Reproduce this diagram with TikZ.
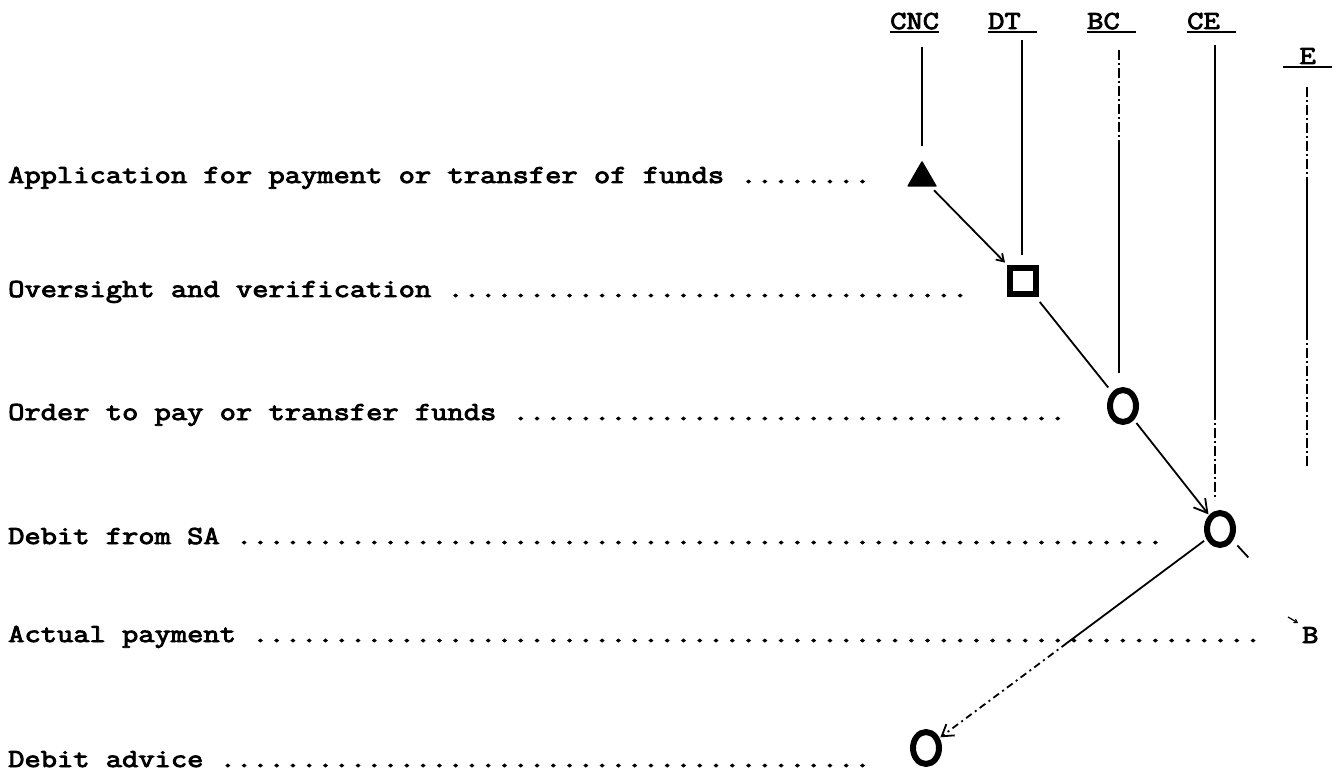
\documentclass[tikz,border=0pt]{standalone}
\usepackage{fontspec}
\newfontfamily\tw{Latin Modern Mono}[FakeStretch=1.22, FakeBold=3.5]
\usetikzlibrary{shapes.geometric,arrows.meta,calc}
\newcount\mydotcnt
\newcommand\mydots[1]{\mydotcnt=0 \loop\ifnum\mydotcnt<#1 .\advance\mydotcnt by 1 \repeat}
\tikzset{
  lbl/.style={anchor=base west, inner sep=0pt, font=\fontsize{25.9}{30}\selectfont\tw},
  hdr/.style={lbl, text depth=0pt},
  ul/.style={line width=2.5pt},
  life/.style={line width=1.8pt},
  dashdot/.style={line width=1.8pt, dash pattern=on 10pt off 3pt on 2pt off 3pt},
  conn/.style={line width=1.8pt},
  loosedash/.style={line width=1.8pt, dash pattern=on 7pt off 4pt on 2pt off 4pt},
  tri/.style={regular polygon, regular polygon sides=3, fill=black, draw=black, line width=1.5pt, line join=round, minimum size=32pt, inner sep=0pt},
  sqr/.style={rectangle, draw, line width=6.5pt, minimum size=26pt, inner sep=0pt},
  circ/.style={ellipse, draw, line width=6pt, minimum width=26pt, minimum height=32pt, inner sep=0pt},
}
\begin{document}
\begin{tikzpicture}[x=1pt,y=-1pt]
\useasboundingbox (0,0) rectangle (1338,775);

% headers
\node[hdr] (hCNC) at (890,29) {CNC};
\node[hdr] (hDT) at (988,29) {DT\hphantom{X}};
\node[hdr] (hBC) at (1087,29) {BC\hphantom{X}};
\node[hdr] (hCE) at (1187,29) {CE\hphantom{X}};
\node[hdr] (hE) at (1283,64) {\hphantom{X}E\hphantom{X}};
\foreach \h in {hCNC,hDT,hBC,hCE,hE}
  \draw[ul] ([yshift=-3pt]\h.south west) -- ([yshift=-3pt]\h.south east);

% row labels
\node[lbl] (r1) at (8,183) {Application for payment or transfer of funds \mydots{8}};
\node[lbl] (r2) at (8,297) {Oversight and verification \mydots{32}};
\node[lbl] (r3) at (8,420) {Order to pay or transfer funds \mydots{34}};
\node[lbl] (r4) at (8,544) {Debit from SA \mydots{57}};
\node[lbl] (r5) at (8,642) {Actual payment \mydots{62}};
\node[lbl] (r6) at (8,767) {Debit advice \mydots{40}};
\node[lbl] (b) at (1302,643) {B};

% symbols
\node[tri] (t) at (922,178) {};
\node[sqr] (sq) at (1023,281) {};
\node[circ] (c1) at (1123,406) {};
\node[circ] (c2) at (1220,529) {};
\node[circ] (c3) at (926,748) {};

% lifelines
\coordinate (cncT) at (922,47);
\draw[life, shorten >=14pt] (cncT) -- (cncT |- t.north);
\coordinate (dtT) at (1022,40);
\draw[life, shorten >=10pt] (dtT) -- (dtT |- sq.north);
\coordinate (bcT) at (1119,50);
\coordinate (bcM) at (1119,150);
\draw[dashdot] (bcT) -- (bcM);
\draw[life, shorten >=14pt] (bcM) -- (bcM |- c1.north);
\coordinate (ceT) at (1215,45);
\coordinate (ceM) at (1215,410);
\draw[life] (ceT) -- (ceM);
\draw[dashdot, shorten >=10pt] (ceM) -- (ceM |- c2.north);
\coordinate (eT) at (1307,87);
\coordinate (eA) at (1307,180);
\coordinate (eB) at (1307,330);
\coordinate (eC) at (1307,468);
\draw[dashdot] (eT) -- (eA);
\draw[life] (eA) -- (eB);
\draw[dashdot] (eB) -- (eC);

% connectors
\draw[conn, -{Straight Barb[length=7pt,width=9pt]}, shorten <=5pt, shorten >=3pt] (t) -- (sq);
\draw[conn, shorten <=6pt, shorten >=6pt] (sq) -- (c1);
\draw[conn, -{Straight Barb[length=13pt,width=15pt]}, shorten <=4pt, shorten >=1pt] (c1) -- (c2);
\coordinate (m) at ($(c2)!0.52!(c3)$);
\draw[conn, shorten <=3pt] (c2) -- (m);
\draw[loosedash, -{Straight Barb[length=11pt,width=14pt]}, shorten >=1pt] (m) -- (c3);
\draw[conn] ([shift={(6,3)}]c2.south east) -- ++(11,12);
\draw[line width=1.2pt, -{Straight Barb[length=3pt,width=4pt]}] ([shift={(-14,-26)}]b.base west) -- ++(10,6);
\end{tikzpicture}
\end{document}
